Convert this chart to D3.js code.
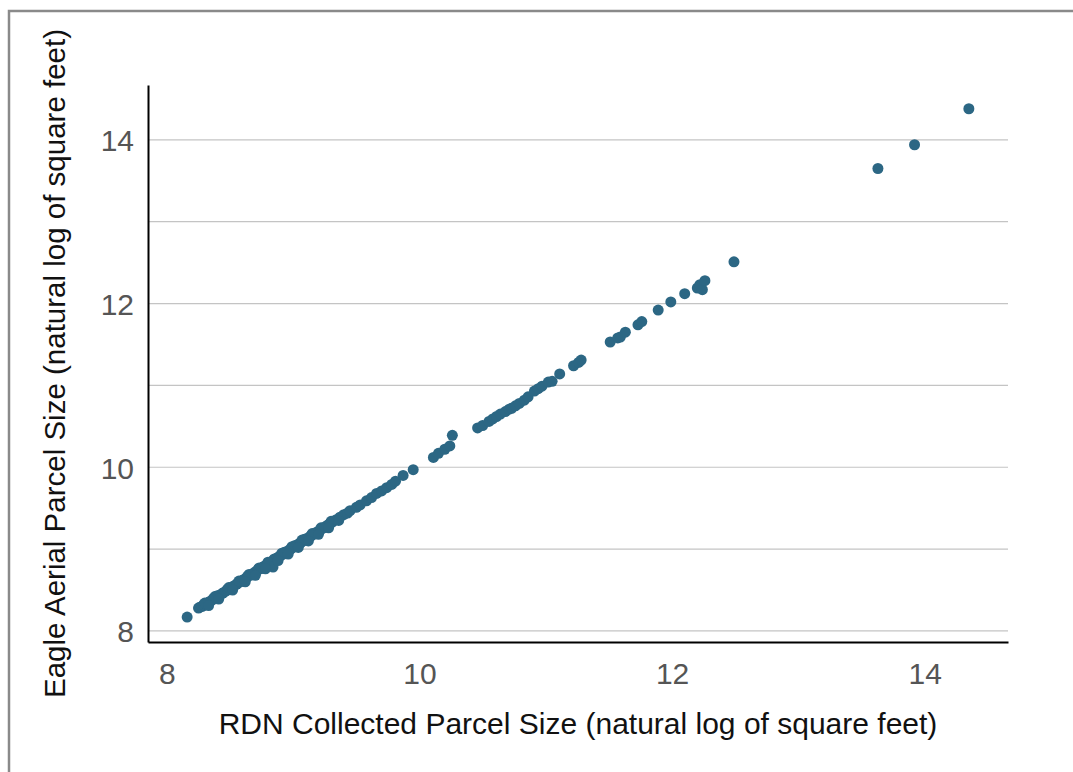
<!DOCTYPE html>
<html>
<head>
<meta charset="utf-8">
<script src="https://cdn.jsdelivr.net/npm/d3@7"></script>
<style>
  html, body { margin: 0; padding: 0; background: #fff; }
  svg { display: block; font-family: "Liberation Sans", Arial, sans-serif; }
</style>
</head>
<body>
<div id="chart"></div>
<script>
// RDN collected parcel size (x) vs Eagle aerial parcel size (y), natural log of sq ft
const rdnLog = [
  8.16, 8.25, 8.26, 8.28, 8.29, 8.31, 8.33, 8.34, 8.36, 8.37, 8.39, 8.40, 8.42, 8.44,
  8.45, 8.47, 8.48, 8.50, 8.52, 8.53, 8.55, 8.56, 8.58, 8.60, 8.61, 8.63, 8.64, 8.66,
  8.68, 8.69, 8.71, 8.72, 8.74, 8.76, 8.77, 8.79, 8.81, 8.82, 8.84, 8.85, 8.87, 8.89,
  8.90, 8.92, 8.93, 8.95, 8.97, 8.98, 9.00, 9.01, 9.03, 9.05, 9.06, 9.08, 9.09, 9.11,
  9.13, 9.14, 9.16, 9.18, 9.19, 9.21, 9.23, 9.25, 9.27, 9.29, 9.31, 9.34, 9.37, 9.40,
  9.43, 9.45, 9.50, 9.53, 9.58, 9.62, 9.66, 9.70, 9.74, 9.78, 9.81, 9.87, 9.95,
  8.30, 8.38, 8.49, 8.57, 8.65, 8.73, 8.80, 8.84, 8.91, 8.99, 9.07, 9.15, 9.22, 9.30,
  8.33, 8.41, 8.52, 8.62, 8.70, 8.78, 8.88, 8.96, 9.04, 9.12, 9.20, 9.28, 9.36,
  10.11, 10.15, 10.20, 10.24, 10.26,
  10.46, 10.50, 10.55, 10.58, 10.61, 10.64, 10.68, 10.71, 10.73, 10.76, 10.79, 10.83,
  10.86, 10.91, 10.94, 10.97, 11.02, 11.05, 11.11, 11.22, 11.26, 11.28,
  11.51, 11.57, 11.59, 11.63, 11.73, 11.76, 11.89, 11.99, 12.10, 12.20, 12.22, 12.24,
  12.26, 12.49,
  13.63, 13.92, 14.35
];
const eagleLog = [
  8.17, 8.28, 8.29, 8.30, 8.32, 8.33, 8.35, 8.36, 8.38, 8.40, 8.41, 8.43, 8.44, 8.46,
  8.47, 8.49, 8.51, 8.52, 8.54, 8.55, 8.57, 8.58, 8.60, 8.62, 8.63, 8.65, 8.67, 8.68,
  8.70, 8.71, 8.73, 8.75, 8.76, 8.78, 8.79, 8.81, 8.83, 8.84, 8.86, 8.88, 8.89, 8.91,
  8.92, 8.94, 8.96, 8.97, 8.99, 9.00, 9.02, 9.04, 9.05, 9.07, 9.08, 9.10, 9.12, 9.13,
  9.15, 9.16, 9.18, 9.20, 9.21, 9.23, 9.25, 9.27, 9.29, 9.31, 9.33, 9.36, 9.39, 9.42,
  9.44, 9.47, 9.51, 9.54, 9.59, 9.63, 9.68, 9.71, 9.75, 9.79, 9.83, 9.90, 9.97,
  8.34, 8.42, 8.53, 8.61, 8.69, 8.77, 8.84, 8.78, 8.95, 9.03, 9.11, 9.19, 9.26, 9.34,
  8.31, 8.39, 8.50, 8.60, 8.68, 8.76, 8.86, 8.94, 9.02, 9.10, 9.18, 9.26, 9.35,
  10.12, 10.17, 10.22, 10.26, 10.39,
  10.48, 10.51, 10.56, 10.59, 10.62, 10.65, 10.68, 10.71, 10.72, 10.75, 10.78, 10.82,
  10.86, 10.93, 10.96, 10.99, 11.04, 11.05, 11.14, 11.24, 11.28, 11.31,
  11.53, 11.58, 11.59, 11.65, 11.74, 11.78, 11.92, 12.02, 12.12, 12.19, 12.23, 12.17,
  12.28, 12.51,
  13.65, 13.94, 14.38
];
const xTickValues = [8, 10, 12, 14];
const yTickValues = [8, 10, 12, 14];
const yGridValues = [8, 9, 10, 11, 12, 13, 14];
const xTitle = 'RDN Collected Parcel Size (natural log of square feet)';
const yTitle = 'Eagle Aerial Parcel Size (natural log of square feet)';

const width = 1073, height = 772;
const margin = { top: 85, right: 65, bottom: 130, left: 148 };
const innerW = width - margin.left - margin.right,
      innerH = height - margin.top - margin.bottom;

const points = rdnLog.map((x, i) => ({ x: x, y: eagleLog[i] }));

const svg = d3.select('#chart').append('svg')
  .attr('width', width)
  .attr('height', height);

// outer frame (only left and top edges visible in the crop)
svg.append('path')
  .attr('d', `M9,${height} V11 H${width}`)
  .attr('fill', 'none')
  .attr('stroke', '#8a8a8a')
  .attr('stroke-width', 2.5);

const g = svg.append('g')
  .attr('transform', `translate(${margin.left},${margin.top})`);

const xSc = d3.scaleLinear().domain([7.85, 14.66]).range([0, innerW]);
const ySc = d3.scaleLinear().domain([7.865, 14.67]).range([innerH, 0]);

// horizontal grid lines
g.append('g').classed('grid', true)
  .selectAll('line')
  .data(yGridValues)
  .join('line')
    .attr('x1', 0)
    .attr('x2', innerW)
    .attr('y1', d => ySc(d))
    .attr('y2', d => ySc(d))
    .attr('stroke', '#c4c4c4')
    .attr('stroke-width', 1.2);

// axes
const xAxis = g.append('g')
  .attr('transform', `translate(0,${innerH})`)
  .call(d3.axisBottom(xSc).tickValues(xTickValues).tickSize(0).tickPadding(14).tickFormat(d3.format('d')));
const yAxis = g.append('g')
  .call(d3.axisLeft(ySc).tickValues(yTickValues).tickSize(0).tickPadding(14).tickFormat(d3.format('d')));

[xAxis, yAxis].forEach(ax => {
  ax.select('.domain').attr('stroke', '#000').attr('stroke-width', 2);
  ax.selectAll('text')
    .attr('fill', '#555')
    .style('font-size', '30px')
    .style('font-family', '"Liberation Sans", Arial, sans-serif');
});
xAxis.selectAll('text').attr('dy', '0.92em');
yAxis.selectAll('text').attr('dy', '0.36em');

// points
g.append('g').classed('points', true)
  .selectAll('circle')
  .data(points)
  .join('circle')
    .attr('cx', d => xSc(d.x))
    .attr('cy', d => ySc(d.y))
    .attr('r', 5.5)
    .attr('fill', '#2c6784');

// axis titles
svg.append('text')
  .attr('x', margin.left + innerW / 2)
  .attr('y', 734)
  .attr('text-anchor', 'middle')
  .attr('fill', '#111')
  .style('font-size', '30px')
  .text(xTitle);

svg.append('text')
  .attr('transform', `translate(65,${margin.top + innerH / 2}) rotate(-90)`)
  .attr('text-anchor', 'middle')
  .attr('fill', '#111')
  .style('font-size', '29.5px')
  .text(yTitle);
</script>
</body>
</html>
